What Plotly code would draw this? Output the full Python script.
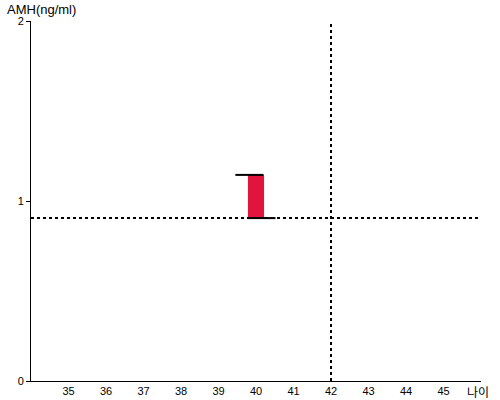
import plotly.graph_objects as go

age = [40]
amh_low = [0.905]
amh_high = [1.145]
top_cap_x = [39.45, 40.2]
bottom_cap_x = [39.77, 40.52]
ref_age = 42
ref_amh = 0.905
x_ticks = list(range(35, 46))
y_ticks = [0, 1, 2]

fig = go.Figure()
fig.add_trace(go.Bar(x=age, y=[h - l for h, l in zip(amh_high, amh_low)], base=amh_low,
                     width=0.43, marker=dict(color="#E0143C", line=dict(width=0)), showlegend=False))
fig.add_trace(go.Scatter(x=top_cap_x, y=[amh_high[0]] * 2, mode="lines",
                         line=dict(color="black", width=2), showlegend=False))
fig.add_trace(go.Scatter(x=bottom_cap_x, y=[amh_low[0]] * 2, mode="lines",
                         line=dict(color="black", width=2), showlegend=False))
fig.add_shape(type="line", xref="x", yref="paper", x0=ref_age, x1=ref_age, y0=0, y1=1,
              line=dict(color="black", width=2, dash="dot"), layer="above")
fig.add_shape(type="line", xref="paper", yref="y", x0=0, x1=1, y0=ref_amh, y1=ref_amh,
              line=dict(color="black", width=2, dash="dot"), layer="above")

fig.update_layout(
    width=500, height=400, plot_bgcolor="white", paper_bgcolor="white",
    margin=dict(l=31, r=19, t=21, b=19, autoexpand=False),
    font=dict(family="Liberation Sans, Arial", size=11, color="black"),
    xaxis=dict(range=[34, 46], tickvals=x_ticks, showgrid=False, zeroline=False,
               showline=True, linecolor="black", linewidth=1, ticks="",
               tickfont=dict(size=11), automargin=False),
    yaxis=dict(range=[0, 2], tickvals=y_ticks, showgrid=False, zeroline=False,
               showline=True, linecolor="black", linewidth=1, ticks="outside",
               ticklen=4, tickcolor="black", tickfont=dict(size=11), automargin=False),
    annotations=[
        dict(text="AMH(ng/ml)", xref="paper", yref="paper", x=0, y=1, xshift=-26, yshift=2,
             xanchor="left", yanchor="bottom", showarrow=False, font=dict(size=13)),
        dict(text="나이", xref="paper", yref="paper", x=1, y=0, xshift=10, yshift=0,
             xanchor="right", yanchor="top", showarrow=False,
             font=dict(size=12, family="Noto Sans CJK KR")),
    ],
)
fig.write_html("out.html", config={"displayModeBar": False},
               post_script="document.body.style.margin='0';")
